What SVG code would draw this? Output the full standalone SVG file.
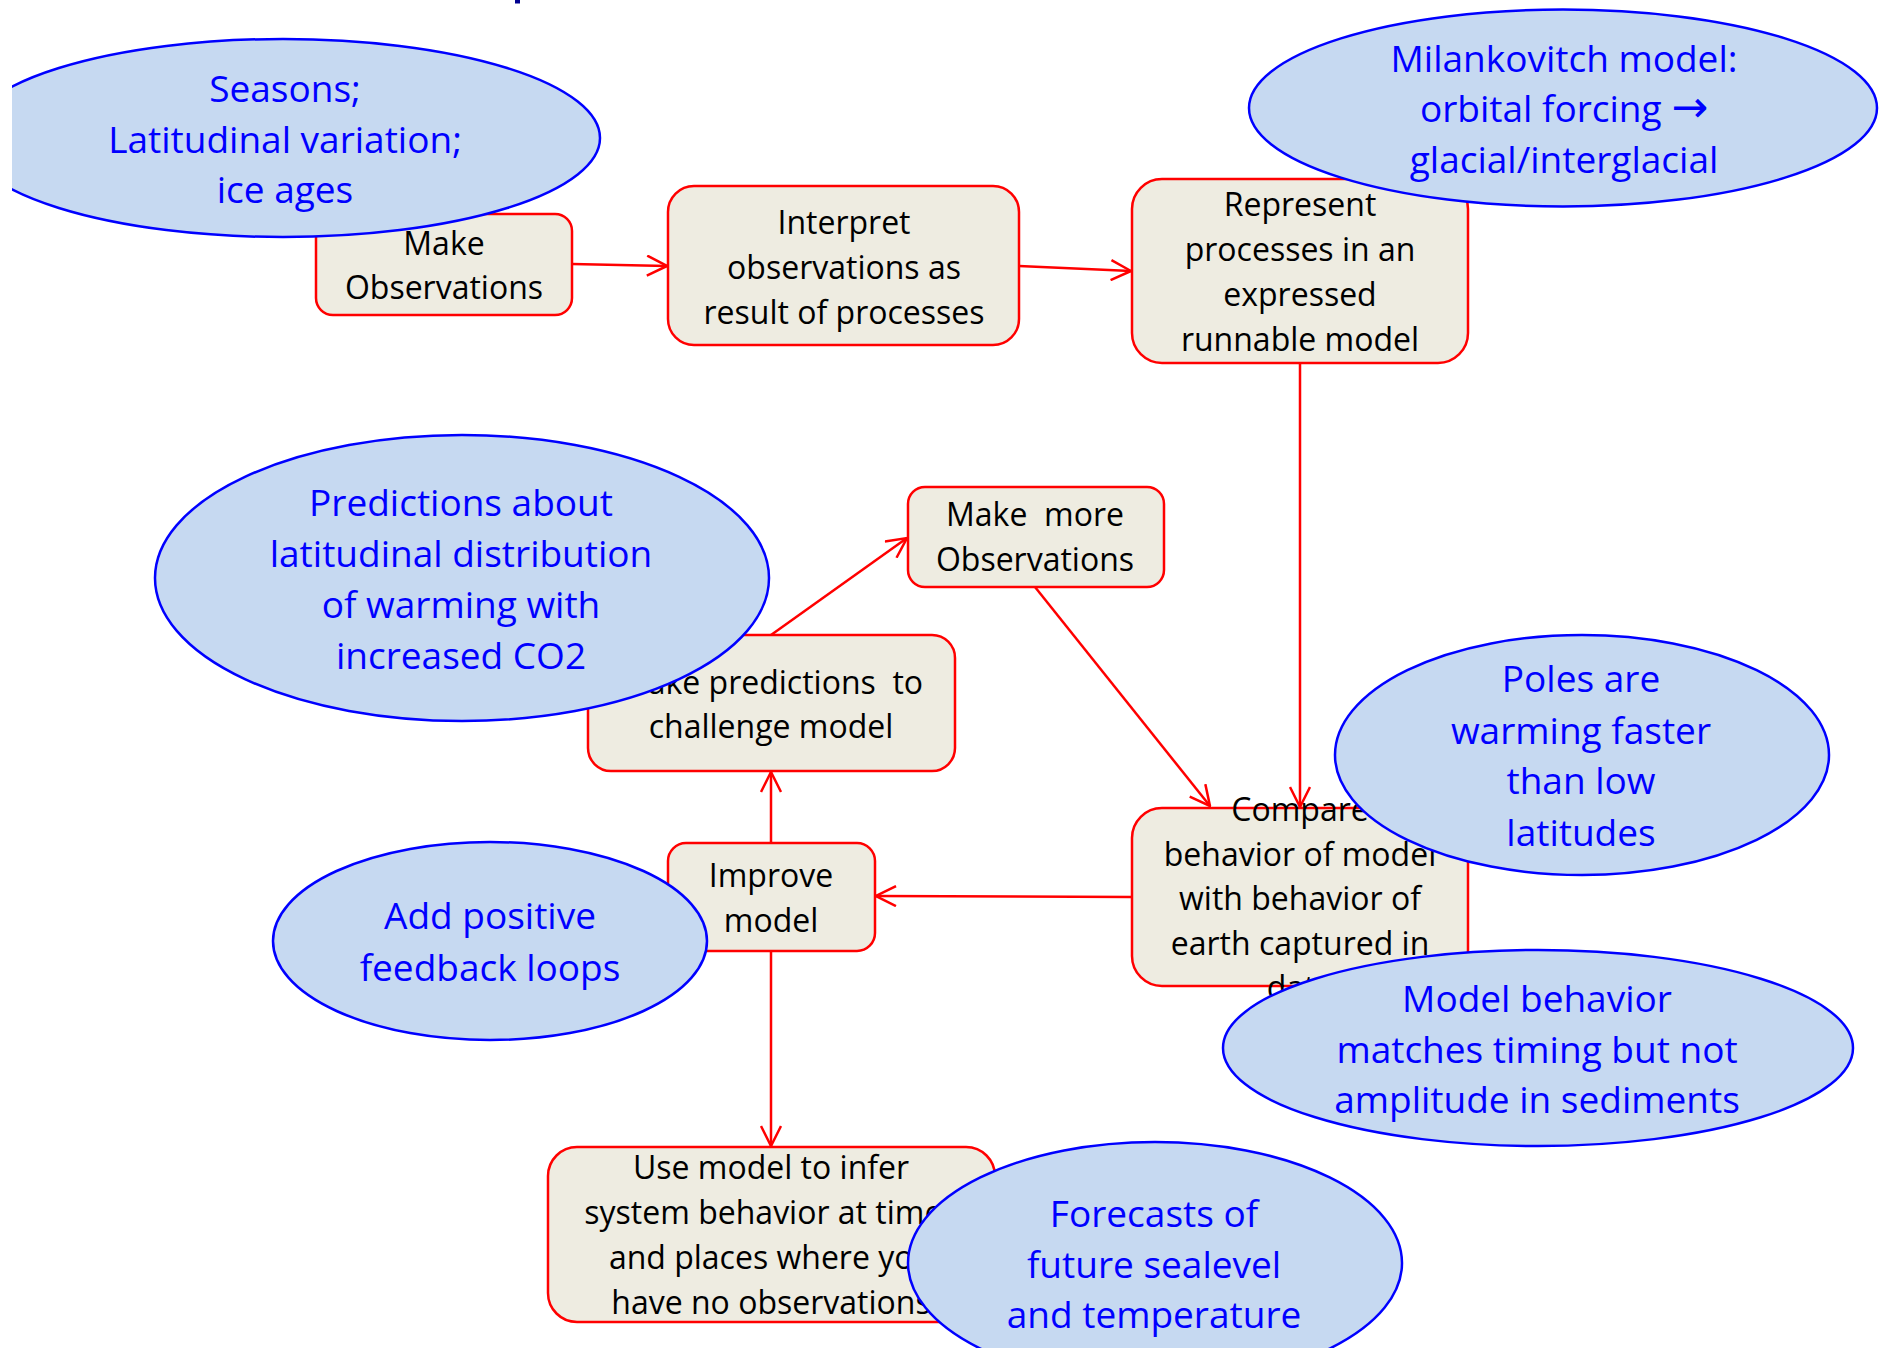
<svg xmlns="http://www.w3.org/2000/svg" width="1885" height="1348" viewBox="0 0 1885 1348">
  <style>
    .box { fill: #EEECE1; stroke: #FF0000; stroke-width: 2.5; }
    .bubble { fill: #C6D9F1; stroke: #0000FF; stroke-width: 2.5; }
    .btxt { font-family: "Open Sans", "Noto Sans", sans-serif; font-size: 32px; fill: #000000; text-anchor: middle; white-space: pre; }
    .ctxt { font-family: "Open Sans", "Noto Sans", sans-serif; font-size: 37px; fill: #0000FF; text-anchor: middle; white-space: pre; }
    .sym { font-family: "DejaVu Sans", sans-serif; font-size: 44px; }
    .link { fill: none; stroke: #FF0000; stroke-width: 2.5; marker-end: url(#open-arrow); }
  </style>
  <defs>
    <marker id="open-arrow" viewBox="0 0 22 22" refX="21" refY="11" markerWidth="22" markerHeight="22" markerUnits="userSpaceOnUse" orient="auto">
      <path d="M1,1 L21,11 L1,21" fill="none" stroke="#FF0000" stroke-width="2.5"/>
    </marker>
    <clipPath id="left-margin">
      <rect x="12" y="0" width="1873" height="1348"/>
    </clipPath>
  </defs>

  <rect x="0" y="0" width="1885" height="1348" fill="#FFFFFF"/>
  <!-- descender of the heading above the frame -->
  <rect x="515" y="0" width="5" height="3.5" fill="#000090"/>

  <!-- process boxes -->
  <g id="make-observations">
    <rect class="box" x="316" y="214" width="256" height="101" rx="17"/>
    <text class="btxt" x="444" y="255">Make</text>
    <text class="btxt" x="444" y="299">Observations</text>
  </g>
  <g id="interpret-observations">
    <rect class="box" x="668" y="186" width="351" height="159" rx="26"/>
    <text class="btxt" x="844" y="234">Interpret</text>
    <text class="btxt" x="844" y="279">observations as</text>
    <text class="btxt" x="844" y="324">result of processes</text>
  </g>
  <g id="represent-processes">
    <rect class="box" x="1132" y="179" width="336" height="184" rx="30"/>
    <text class="btxt" x="1300" y="216">Represent</text>
    <text class="btxt" x="1300" y="261">processes in an</text>
    <text class="btxt" x="1300" y="306">expressed</text>
    <text class="btxt" x="1300" y="351">runnable model</text>
  </g>
  <g id="make-more-observations">
    <rect class="box" x="908" y="487" width="256" height="100" rx="17"/>
    <text class="btxt" x="1035" y="526">Make  more</text>
    <text class="btxt" x="1035" y="571">Observations</text>
  </g>
  <g id="make-predictions">
    <rect class="box" x="588" y="635" width="367" height="136" rx="23"/>
    <text class="btxt" x="771" y="694">Make predictions  to</text>
    <text class="btxt" x="771" y="738">challenge model</text>
  </g>
  <g id="improve-model">
    <rect class="box" x="668" y="843" width="207" height="108" rx="18"/>
    <text class="btxt" x="771" y="887">Improve</text>
    <text class="btxt" x="771" y="932">model</text>
  </g>
  <g id="compare-behavior">
    <rect class="box" x="1132" y="808" width="336" height="178" rx="30"/>
    <text class="btxt" x="1300" y="821">Compare</text>
    <text class="btxt" x="1300" y="866">behavior of model</text>
    <text class="btxt" x="1300" y="910">with behavior of</text>
    <text class="btxt" x="1300" y="955">earth captured in</text>
    <text class="btxt" x="1300" y="999">data</text>
  </g>
  <g id="use-model">
    <rect class="box" x="548" y="1147" width="447" height="175" rx="29"/>
    <text class="btxt" x="771" y="1179">Use model to infer</text>
    <text class="btxt" x="771" y="1224">system behavior at times</text>
    <text class="btxt" x="771" y="1269">and places where you</text>
    <text class="btxt" x="771" y="1314">have no observations</text>
  </g>

  <!-- connectors -->
  <g id="connectors">
    <line class="link" x1="572" y1="264" x2="667" y2="266"/>
    <line class="link" x1="1019" y1="266" x2="1131" y2="271"/>
    <line class="link" x1="1300" y1="363" x2="1300" y2="807"/>
    <line class="link" x1="1035" y1="587" x2="1210" y2="806"/>
    <line class="link" x1="771" y1="635" x2="907" y2="538"/>
    <line class="link" x1="771" y1="843" x2="771" y2="772"/>
    <line class="link" x1="1132" y1="897" x2="876" y2="896"/>
    <line class="link" x1="771" y1="951" x2="771" y2="1146"/>
  </g>

  <!-- example callouts -->
  <g id="note-seasons" clip-path="url(#left-margin)">
    <ellipse class="bubble" cx="283" cy="138" rx="317" ry="99"/>
    <text class="ctxt" x="285" y="102">Seasons;</text>
    <text class="ctxt" x="285" y="152.5">Latitudinal variation;</text>
    <text class="ctxt" x="285" y="203">ice ages</text>
  </g>
  <g id="note-milankovitch">
    <ellipse class="bubble" cx="1563" cy="108" rx="314" ry="98.5"/>
    <text class="ctxt" x="1564" y="72">Milankovitch model:</text>
    <text class="ctxt" x="1564" y="122">orbital forcing <tspan class="sym">→</tspan></text>
    <text class="ctxt" x="1564" y="173">glacial/interglacial</text>
  </g>
  <g id="note-predictions">
    <ellipse class="bubble" cx="462" cy="578" rx="307" ry="143"/>
    <text class="ctxt" x="461" y="515.5">Predictions about</text>
    <text class="ctxt" x="461" y="567">latitudinal distribution</text>
    <text class="ctxt" x="461" y="618">of warming with</text>
    <text class="ctxt" x="461" y="669">increased CO2</text>
  </g>
  <g id="note-poles">
    <ellipse class="bubble" cx="1582" cy="755" rx="247" ry="120"/>
    <text class="ctxt" x="1581" y="692">Poles are</text>
    <text class="ctxt" x="1581" y="744">warming faster</text>
    <text class="ctxt" x="1581" y="794">than low</text>
    <text class="ctxt" x="1581" y="846">latitudes</text>
  </g>
  <g id="note-feedback">
    <ellipse class="bubble" cx="490" cy="941" rx="217" ry="99"/>
    <text class="ctxt" x="490" y="929">Add positive</text>
    <text class="ctxt" x="490" y="981">feedback loops</text>
  </g>
  <g id="note-model-behavior">
    <ellipse class="bubble" cx="1538" cy="1048" rx="315" ry="98"/>
    <text class="ctxt" x="1537" y="1012">Model behavior</text>
    <text class="ctxt" x="1537" y="1062.5">matches timing but not</text>
    <text class="ctxt" x="1537" y="1113">amplitude in sediments</text>
  </g>
  <g id="note-forecasts">
    <ellipse class="bubble" cx="1155" cy="1263" rx="247" ry="121"/>
    <text class="ctxt" x="1154" y="1227">Forecasts of</text>
    <text class="ctxt" x="1154" y="1278">future sealevel</text>
    <text class="ctxt" x="1154" y="1328">and temperature</text>
  </g>
</svg>
